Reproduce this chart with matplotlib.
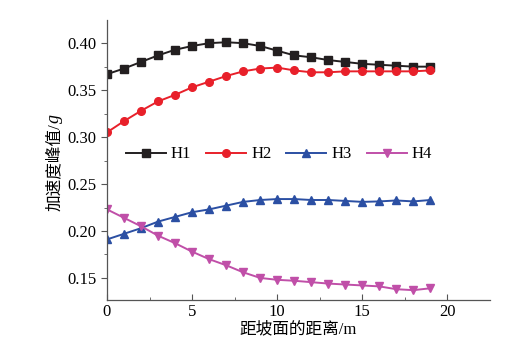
import matplotlib.pyplot as plt
import numpy as np

plt.rcParams['font.family'] = ['Liberation Serif', 'Noto Sans CJK SC']

# distance from slope face (m)
x = np.arange(20)

H1 = [0.367, 0.373, 0.380, 0.387, 0.393, 0.397, 0.400, 0.401, 0.400, 0.397,
      0.392, 0.387, 0.385, 0.382, 0.380, 0.378, 0.377, 0.376, 0.375, 0.375]
H2 = [0.305, 0.317, 0.328, 0.338, 0.345, 0.353, 0.359, 0.365, 0.370, 0.373,
      0.374, 0.371, 0.369, 0.369, 0.370, 0.370, 0.370, 0.370, 0.370, 0.371]
H3 = [0.191, 0.197, 0.203, 0.210, 0.215, 0.220, 0.223, 0.227, 0.231, 0.233,
      0.234, 0.234, 0.233, 0.233, 0.232, 0.231, 0.2315, 0.2325, 0.2315, 0.233]
H4 = [0.223, 0.214, 0.205, 0.195, 0.187, 0.178, 0.170, 0.1635, 0.156, 0.150,
      0.148, 0.147, 0.1455, 0.144, 0.143, 0.142, 0.141, 0.138, 0.137, 0.139]

labels = ['H1', 'H2', 'H3', 'H4']
colors = ['#231f20', '#e8202a', '#2b4fa3', '#c04fa8']
markers = ['s', 'o', '^', 'v']

fig = plt.figure(figsize=(5.08, 3.52), dpi=100)
ax = fig.add_axes([0.2106, 0.1477, 0.754, 0.795])

for y, lab, c, m in zip([H1, H2, H3, H4], labels, colors, markers):
    ax.plot(x, y, '-', color=c, marker=m, markersize=5.5, linewidth=1.4, label=lab)

ax.set_xlim(0, 22.5)
ax.set_ylim(0.1265, 0.4245)
ax.set_xticks([0, 5, 10, 15, 20])
ax.set_xticks([2.5, 7.5, 12.5, 17.5], minor=True)
ax.set_yticks([0.15, 0.20, 0.25, 0.30, 0.35, 0.40])
ax.set_yticks([0.175, 0.225, 0.275, 0.325, 0.375], minor=True)
ax.set_yticklabels(['0.15', '0.20', '0.25', '0.30', '0.35', '0.40'])

ax.spines['top'].set_visible(False)
ax.spines['right'].set_visible(False)
for s in ['left', 'bottom']:
    ax.spines[s].set_color('#555555')
    ax.spines[s].set_linewidth(0.9)

ax.tick_params(axis='x', which='both', direction='in', color='#555555', labelsize=12, pad=3)
ax.tick_params(axis='y', which='both', direction='out', color='#555555', labelsize=12)
ax.tick_params(which='major', length=4)
ax.tick_params(which='minor', length=2.5)

ax.set_xlabel('距坡面的距离/m', fontsize=12, labelpad=1)

# y label: CJK part plus italic g
ylab = fig.text(0.108, 0.525, '加速度峰值/', rotation=90, fontsize=12,
                ha='center', va='center')
ax.annotate('g', xy=(0.5, 1.0), xycoords=ylab, rotation=90, fontsize=13,
            style='italic', ha='center', va='bottom', family='Liberation Serif')

ax.legend(loc='center left', bbox_to_anchor=(0.01, 0.52), ncol=4, frameon=False,
          fontsize=12, handlelength=2.4, handletextpad=0.3, columnspacing=0.9)

plt.savefig('out.png', dpi=100)
